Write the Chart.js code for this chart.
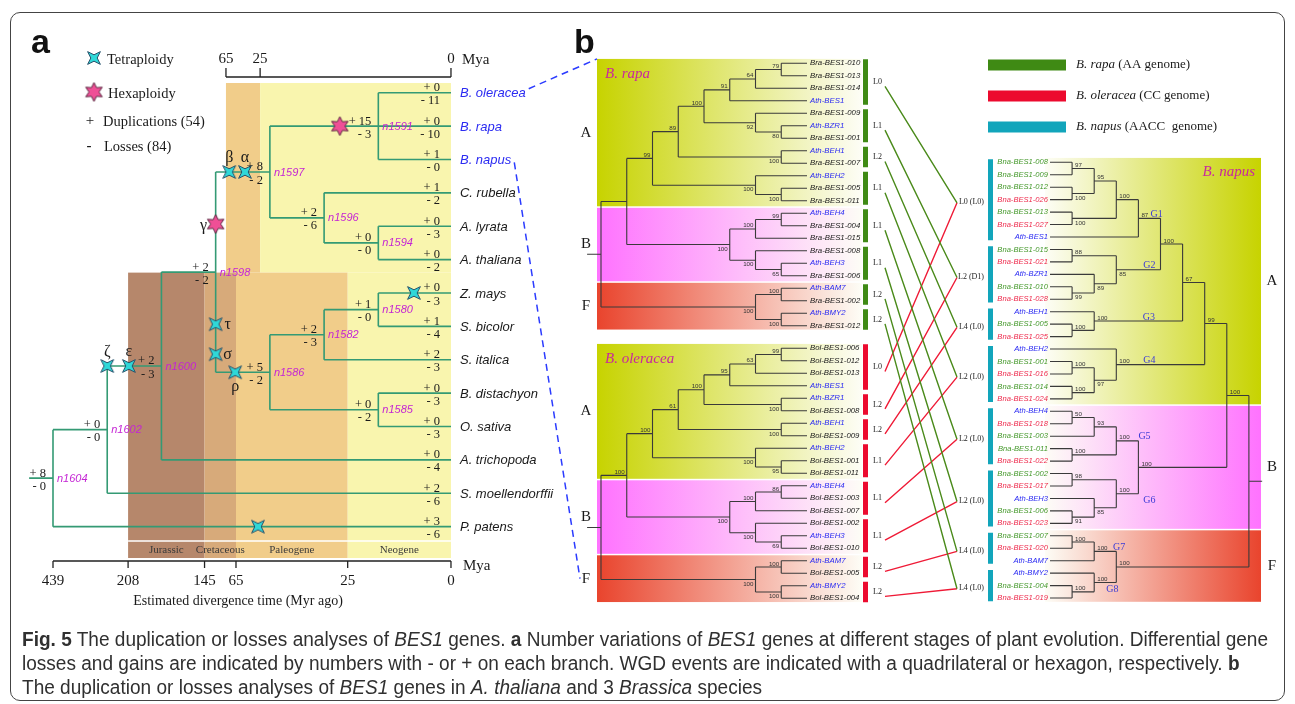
<!DOCTYPE html>
<html>
<head>
<meta charset="utf-8">
<title>BES1 duplications and losses</title>
<script src="https://cdn.jsdelivr.net/npm/chart.js@4.4.1/dist/chart.umd.min.js"></script>
<style>
  html, body { margin: 0; padding: 0; background: #fff; }
  #page { position: relative; width: 1295px; height: 704px; overflow: hidden; }
  #frame { position: absolute; left: 10px; top: 12px; width: 1275px; height: 689px; box-sizing: border-box; border: 1.5px solid #444; border-radius: 10px; }
  #fig { position: absolute; left: 0; top: 0; }
  #caption { position: absolute; left: 22px; top: 627px; font-family: "Liberation Sans Narrow", "Liberation Sans", Arial, sans-serif; font-size: 20px; line-height: 24px; color: #303030; white-space: nowrap; transform-origin: 0 0; }
  #caption span { display: inline-block; }
</style>
</head>
<body>
<div id="page">
  <div id="frame"></div>
  <canvas id="fig" width="1295" height="704"></canvas>
  <div id="caption">
    <div><span><b>Fig. 5</b> The duplication or losses analyses of <i>BES1</i> genes. <b>a</b> Number variations of <i>BES1</i> genes at different stages of plant evolution. Differential gene</span></div>
    <div><span>losses and gains are indicated by numbers with - or + on each branch. WGD events are indicated with a quadrilateral or hexagon, respectively. <b>b</b></span></div>
    <div><span>The duplication or losses analyses of <i>BES1</i> genes in <i>A. thaliana</i> and 3 <i>Brassica</i> species</span></div>
  </div>
</div>
<script>
// ---------- panel a: gains / losses of BES1 on the species tree ----------
const speciesA = ['B. oleracea', 'B. rapa', 'B. napus', 'C. rubella', 'A. lyrata', 'A. thaliana',
  'Z. mays', 'S. bicolor', 'S. italica', 'B. distachyon', 'O. sativa', 'A. trichopoda',
  'S. moellendorffii', 'P. patens'];
const brassicaA = ['B. oleracea', 'B. rapa', 'B. napus'];
const leafGainA = [0, 0, 1, 1, 0, 0, 0, 1, 2, 0, 0, 0, 2, 3];
const leafLossA = [11, 10, 0, 2, 3, 2, 3, 4, 3, 3, 3, 4, 6, 6];
// internal node: [name, depth, gain, loss, ...children]
const n1591 = ['n1591', 6, 15, 3, 'B. oleracea', 'B. rapa', 'B. napus'];
const n1594 = ['n1594', 6, 0, 0, 'A. lyrata', 'A. thaliana'];
const n1596 = ['n1596', 5, 2, 6, 'C. rubella', n1594];
const n1597 = ['n1597', 4, 8, 2, n1591, n1596];
const n1580 = ['n1580', 6, 1, 0, 'Z. mays', 'S. bicolor'];
const n1582 = ['n1582', 5, 2, 3, n1580, 'S. italica'];
const n1585 = ['n1585', 6, 0, 2, 'B. distachyon', 'O. sativa'];
const n1586 = ['n1586', 4, 5, 2, n1582, n1585];
const n1598 = ['n1598', 3, 2, 2, n1597, n1586];
const n1600 = ['n1600', 2, 2, 3, n1598, 'A. trichopoda'];
const n1602 = ['n1602', 1, 0, 0, n1600, 'S. moellendorffii'];
const n1604 = ['n1604', 0, 8, 0, n1602, 'P. patens'];
const bottomTicks = [439, 208, 145, 65, 25, 0];
const topTicks = [65, 25, 0];
const eraNames = ['Jurassic', 'Cretaceous', 'Paleogene', 'Neogene'];
const eraBounds = [208, 145, 65, 25, 0];
// WGD: [kind, symbol, branch (child node), t: 0..1 along vertical, 1..2 along horizontal, label side]
const wgdEvents = [
  ['tetra', 'β', 'n1597', 1.25, 'up'],
  ['tetra', 'α', 'n1597', 1.54, 'up'],
  ['hexa', 'γ', 'n1597', 0.48, 'left'],
  ['hexa', '', 'n1591', 1.645, ''],
  ['tetra', 'τ', 'n1586', 0.52, 'right'],
  ['tetra', 'σ', 'n1586', 0.82, 'right'],
  ['tetra', 'ρ', 'n1586', 1.36, 'down'],
  ['tetra', 'ζ', 'n1600', 1.0, 'up'],
  ['tetra', 'ε', 'n1600', 1.40, 'up'],
  ['tetra', '', 'Z. mays', 1.49, ''],
  ['tetra', '', 'P. patens', 1.515, '']
];
const legendA = ['Tetraploidy', 'Hexaploidy', 'Duplications (54)', 'Losses (84)'];

// ---------- panel b: BES1 gene trees ----------
// node: [depth, bootstrap, ...children]; a trailing "_" puts the bootstrap under the branch
const rapaTree = [0, '',
  [1, '',
    [2, '99',
      [3, '89',
        [4, '100',
          [5, '91', [6, '64', [7, '79', 'Bra-BES1-010', 'Bra-BES1-013'], 'Bra-BES1-014'], 'Ath-BES1'],
          [6, '92', 'Bra-BES1-009', [7, '80', 'Ath-BZR1', 'Bra-BES1-001']]],
        [7, '100', 'Ath-BEH1', 'Bra-BES1-007']],
      [6, '100', 'Ath-BEH2', [7, '100', 'Bra-BES1-005', 'Bra-BES1-011']]],
    [5, '100',
      [6, '100', [7, '99', 'Ath-BEH4', 'Bra-BES1-004'], 'Bra-BES1-015'],
      [6, '100', 'Bra-BES1-008', [7, '65', 'Ath-BEH3', 'Bra-BES1-006']]]],
  [6, '100', [7, '100', 'Ath-BAM7', 'Bra-BES1-002'], [7, '100', 'Ath-BMY2', 'Bra-BES1-012']]];
const oleraceaTree = [0, '',
  [1, '100',
    [2, '100',
      [3, '61',
        [4, '100',
          [5, '95', [6, '63', [7, '99', 'Bol-BES1-006', 'Bol-BES1-012'], 'Bol-BES1-013'], 'Ath-BES1'],
          [7, '100', 'Ath-BZR1', 'Bol-BES1-008']],
        [7, '100', 'Ath-BEH1', 'Bol-BES1-009']],
      [6, '100', 'Ath-BEH2', [7, '95', 'Bol-BES1-001', 'Bol-BES1-011']]],
    [5, '100',
      [6, '100', [7, '86', 'Ath-BEH4', 'Bol-BES1-003'], 'Bol-BES1-007'],
      [6, '100', 'Bol-BES1-002', [7, '69', 'Ath-BEH3', 'Bol-BES1-010']]]],
  [6, '100', [7, '100', 'Ath-BAM7', 'Bol-BES1-005'], [7, '100', 'Ath-BMY2', 'Bol-BES1-004']]];
const G1 = [4, '87', [3, '100', [2, '95', [1, '97', 'Bna-BES1-008', 'Bna-BES1-009'], [1, '100_', 'Bna-BES1-012', 'Bna-BES1-026']], [1, '100_', 'Bna-BES1-013', 'Bna-BES1-027']], 'Ath-BES1'];
const G2 = [3, '85_', [1, '88', 'Bna-BES1-015', 'Bna-BES1-021'], [2, '89_', 'Ath-BZR1', [1, '99_', 'Bna-BES1-010', 'Bna-BES1-028']]];
const G3 = [2, '100', 'Ath-BEH1', [1, '100', 'Bna-BES1-005', 'Bna-BES1-025']];
const G4 = [3, '100', 'Ath-BEH2', [2, '97_', [1, '100', 'Bna-BES1-001', 'Bna-BES1-016'], [1, '100', 'Bna-BES1-014', 'Bna-BES1-024']]];
const G5 = [3, '100', [2, '93', [1, '50', 'Ath-BEH4', 'Bna-BES1-018'], 'Bna-BES1-003'], [1, '100', 'Bna-BES1-011', 'Bna-BES1-022']];
const G6 = [3, '100', [1, '98', 'Bna-BES1-002', 'Bna-BES1-017'], [2, '85_', 'Ath-BEH3', [1, '91_', 'Bna-BES1-006', 'Bna-BES1-023']]];
const G7 = [2, '100', [1, '100', 'Bna-BES1-007', 'Bna-BES1-020'], 'Ath-BAM7'];
const G8 = [2, '100', 'Ath-BMY2', [1, '100', 'Bna-BES1-004', 'Bna-BES1-019']];
const napusTree = [9, '', [8, '100', [7, '99', [6, '67', [5, '100', G1, G2], G3], G4], [4, '100', G5, G6]], [3, '100', G7, G8]];
const napusGroupNodes = [G1, G2, G3, G4, G5, G6, G7, G8];
const napusGroupNames = ['G1', 'G2', 'G3', 'G4', 'G5', 'G6', 'G7', 'G8'];
const napusCGenome = ['Bna-BES1-016', 'Bna-BES1-017', 'Bna-BES1-018', 'Bna-BES1-019', 'Bna-BES1-020', 'Bna-BES1-021',
  'Bna-BES1-022', 'Bna-BES1-023', 'Bna-BES1-024', 'Bna-BES1-025', 'Bna-BES1-026', 'Bna-BES1-027', 'Bna-BES1-028'];
const cladeNames = ['A', 'B', 'F'];
const rapaClades = [[0, 11], [12, 17], [18, 21]];
const oleraceaClades = [[0, 10], [11, 16], [17, 20]];
const napusClades = [[0, 19], [20, 29], [30, 35]];
const rapaGroups = [[0, 3], [4, 6], [7, 8], [9, 11], [12, 14], [15, 17], [18, 19], [20, 21]];
const rapaGroupLoss = ['L0', 'L1', 'L2', 'L1', 'L1', 'L1', 'L2', 'L2'];
const oleraceaGroups = [[0, 3], [4, 5], [6, 7], [8, 10], [11, 13], [14, 16], [17, 18], [19, 20]];
const oleraceaGroupLoss = ['L0', 'L2', 'L2', 'L1', 'L1', 'L1', 'L2', 'L2'];
const napusGroups = [[0, 6], [7, 11], [12, 14], [15, 19], [20, 24], [25, 29], [30, 32], [33, 35]];
const napusGroupLoss = ['L0 (L0)', 'L2 (D1)', 'L4 (L0)', 'L2 (L0)', 'L2 (L0)', 'L2 (L0)', 'L4 (L0)', 'L4 (L0)'];
const genomeLegend = [['B. rapa', '(AA genome)'], ['B. oleracea', '(CC genome)'], ['B. napus', '(AACC  genome)']];

// ---------- layout & styles ----------
const W = 1295, H = 704;
const SERIF = '"Liberation Serif","DejaVu Serif",serif';
const SANS = '"Liberation Sans","DejaVu Sans",Arial,sans-serif';
const A_X0 = 53, A_DX = 54.22, A_Y0 = 92.7, A_DY = 33.38;
const B_X0 = 601, B_DX = 25.75, B_Y0 = 63.3, B_DY = 12.5;
const N_X0 = 1050, N_DX = 22.1;
const tipA = 7.34, rootStemA = 0.44;
const bottomTickDepth = [0, 1.385, 2.795, 3.375, 5.435, 7.34];
const topTickDepth = [3.19, 3.82, 7.34];
const rowsA = { bandTop: -0.29, split: 5.39, eraLine: 13.43, bandBottom: 13.94, axisBottom: 14.03, axisTop: -0.47 };
const eraColors = ['#b6876b', '#d7aa7a', '#f1cd8a', '#f9f5ae'];
const tipB = 8, rootStemB = -0.54, napusStem = 9.6;
const oleraceaRow0 = 22.8, napusRow0 = 7.92, napusStep = 0.996;
const bx = px => (px - B_X0) / B_DX;
const colB = { region: bx(597), regionEnd: bx(862), bar: bx(865.5), loss: bx(873), connA: bx(885), connB: bx(957), napusLoss: bx(984), napusBar: bx(990.5) };
const napusRegion = [(1045 - N_X0) / N_DX, (1261 - N_X0) / N_DX];
const gLabelDx = [0.55, 1.22, 2.2, 1.22, 1.0, 1.22, 0.85, 0.55];
const gLabelBelow = [false, false, false, false, false, true, false, true];
const cladeColors = ['#c7d300', '#ff72ff', '#e9442d'];
const genomeColors = ['#3f8a14', '#ec0a2e', '#12a5bb'];
const connColors = ['#4a8a1a', '#ef1a36'];
const treeColorA = '#349a74';
const blueText = '#2b2bf2';

function span(origin, unit, size) { return { min: -origin / unit, max: (size - origin) / unit }; }
function seg(arr, pts) { pts.forEach(p => arr.push({ x: p[0], y: p[1] })); arr.push({ x: null, y: null }); }

// lay out panel a tree
const treeA = { nodes: [], leaves: [], byName: {} };
(function () {
  function walk(n) {
    if (typeof n === 'string') {
      const i = speciesA.indexOf(n);
      const leaf = { name: n, x: tipA, y: i, gain: leafGainA[i], loss: leafLossA[i], leaf: true };
      treeA.leaves.push(leaf); treeA.byName[n] = leaf; return leaf;
    }
    const kids = n.slice(4).map(walk);
    const node = { name: n[0], x: n[1], gain: n[2], loss: n[3], kids, y: (kids[0].y + kids[kids.length - 1].y) / 2 };
    kids.forEach(k => k.parent = node);
    treeA.nodes.push(node); treeA.byName[n[0]] = node; return node;
  }
  treeA.root = walk(n1604);
})();

function layoutB(tree, tip, row0, step) {
  const out = { leaves: [], nodes: [], bySrc: new Map() };
  function walk(n) {
    if (typeof n === 'string') {
      const leaf = { name: n, x: tip, y: row0 + step * out.leaves.length, leaf: true };
      out.leaves.push(leaf); return leaf;
    }
    const kids = n.slice(2).map(walk);
    const node = { x: n[0], boot: n[1], kids, y: (kids[0].y + kids[kids.length - 1].y) / 2 };
    kids.forEach((k, i) => { k.parent = node; k.upper = i === 0; });
    out.nodes.push(node); out.bySrc.set(n, node); return node;
  }
  out.root = walk(tree);
  return out;
}
const treeR = layoutB(rapaTree, tipB, 0, 1);
const treeO = layoutB(oleraceaTree, tipB, oleraceaRow0, 1);
const treeN = layoutB(napusTree, 0, napusRow0, napusStep);

function treeSegments(t, stemFrom) {
  const pts = [];
  t.nodes.forEach(n => {
    seg(pts, [[n.x, n.kids[0].y], [n.x, n.kids[n.kids.length - 1].y]]);
    n.kids.forEach(k => seg(pts, [[n.x, k.y], [k.x, k.y]]));
  });
  seg(pts, [[stemFrom, t.root.y], [t.root.x, t.root.y]]);
  return pts;
}
const groupMid = (t, g) => (t.leaves[g[0]].y + t.leaves[g[1]].y) / 2;

// WGD marker positions on their branches
function onBranch(name, t) {
  const c = treeA.byName[name], p = c.parent;
  if (t <= 1) return { x: p.x, y: p.y + (c.y - p.y) * t };
  return { x: p.x + (c.x - p.x) * (t - 1), y: c.y };
}
const wgdPos = wgdEvents.map(e => Object.assign({ kind: e[0], sym: e[1], side: e[4] }, onBranch(e[2], e[3])));

function starCanvas(points, rOut, rIn, rot, fill, stroke) {
  const s = Math.ceil(rOut * 2 + 4), c = document.createElement('canvas');
  c.width = c.height = s;
  const g = c.getContext('2d');
  g.translate(s / 2, s / 2);
  g.beginPath();
  for (let i = 0; i < points * 2; i++) {
    const r = i % 2 ? rIn : rOut, a = rot + i * Math.PI / points;
    g.lineTo(r * Math.cos(a), r * Math.sin(a));
  }
  g.closePath();
  g.fillStyle = fill; g.fill();
  g.lineWidth = 1; g.strokeStyle = stroke; g.stroke();
  return c;
}
const tetraImg = starCanvas(4, 9, 3.2, Math.PI / 4, '#2fd8d8', '#28506a');
const hexaImg = starCanvas(6, 9.5, 5, -Math.PI / 2, '#ef4f96', '#5b2740');

function lineSet(data, xAxisID, yAxisID, color, width, extra) {
  return Object.assign({ data, xAxisID, yAxisID, showLine: true, borderColor: color, borderWidth: width,
    pointRadius: 0, pointHoverRadius: 0, spanGaps: false, tension: 0 }, extra || {});
}

function barSegments(t, groups, pad) {
  const pts = [];
  groups.forEach(g => seg(pts, [[0, t.leaves[g[0]].y - pad], [0, t.leaves[g[1]].y + pad]]));
  return pts;
}
function atX(pts, x) { return pts.map(p => p.x === null ? p : { x, y: p.y }); }

function connections(t, groups) {
  const pts = [];
  groups.forEach((g, i) => seg(pts, [[colB.connA, groupMid(t, g) + 0.35], [colB.connB, groupMid(treeN, napusGroups[i]) + 0.25]]));
  return pts;
}

const datasets = [
  { data: wgdPos.filter(p => p.kind === 'tetra'), xAxisID: 'xa', yAxisID: 'ya', pointStyle: tetraImg, pointRadius: 8, showLine: false },
  { data: wgdPos.filter(p => p.kind === 'hexa'), xAxisID: 'xa', yAxisID: 'ya', pointStyle: hexaImg, pointRadius: 8, showLine: false },
  lineSet(treeSegments(treeA, -rootStemA), 'xa', 'ya', treeColorA, 1.6),
  lineSet(treeSegments(treeR, rootStemB), 'xb', 'yb', '#3a3a3a', 1.1),
  lineSet(treeSegments(treeO, rootStemB), 'xb', 'yb', '#3a3a3a', 1.1),
  lineSet(treeSegments(treeN, napusStem), 'xn', 'yb', '#3a3a3a', 1.1),
  lineSet(connections(treeR, rapaGroups), 'xb', 'yb', connColors[0], 1.4),
  lineSet(connections(treeO, oleraceaGroups), 'xb', 'yb', connColors[1], 1.4),
  lineSet(atX(barSegments(treeR, rapaGroups, 0.32), colB.bar), 'xb', 'yb', genomeColors[0], 5, { borderCapStyle: 'butt' }),
  lineSet(atX(barSegments(treeO, oleraceaGroups, 0.32), colB.bar), 'xb', 'yb', genomeColors[1], 5, { borderCapStyle: 'butt' }),
  lineSet(atX(barSegments(treeN, napusGroups, 0.25), colB.napusBar), 'xb', 'yb', genomeColors[2], 5, { borderCapStyle: 'butt' })
];

// piecewise map from Mya to tree depth along an axis
function myaToDepth(v, ticks, depths) {
  for (let i = 0; i < ticks.length - 1; i++) {
    if (v <= ticks[i] && v >= ticks[i + 1]) return depths[i] + (depths[i + 1] - depths[i]) * (ticks[i] - v) / (ticks[i] - ticks[i + 1]);
  }
  return v > ticks[0] ? depths[0] : depths[depths.length - 1];
}

function text(ctx, s, x, y, font, color, align, base) {
  ctx.font = font; ctx.fillStyle = color; ctx.textAlign = align || 'left'; ctx.textBaseline = base || 'middle';
  ctx.fillText(s, x, y);
}

function drawBackPanelA(chart, ctx) {
  const xa = chart.scales.xa, ya = chart.scales.ya;
  const bxp = m => xa.getPixelForValue(myaToDepth(m, bottomTicks, bottomTickDepth));
  const txp = m => xa.getPixelForValue(myaToDepth(m, topTicks, topTickDepth));
  const yTop = ya.getPixelForValue(rowsA.bandTop), ySplit = ya.getPixelForValue(rowsA.split);
  const yBot = ya.getPixelForValue(rowsA.bandBottom), yEra = ya.getPixelForValue(rowsA.eraLine);
  ctx.fillStyle = eraColors[2]; ctx.fillRect(txp(65), yTop, txp(25) - txp(65), ySplit - yTop);
  ctx.fillStyle = eraColors[3]; ctx.fillRect(txp(25), yTop, txp(0) - txp(25), ySplit - yTop);
  eraNames.forEach((e, i) => {
    const x0 = bxp(eraBounds[i]), x1 = bxp(eraBounds[i + 1]);
    ctx.fillStyle = eraColors[i]; ctx.fillRect(x0, ySplit, x1 - x0, yBot - ySplit);
  });
  ctx.strokeStyle = '#ffffff'; ctx.lineWidth = 1.5;
  ctx.beginPath(); ctx.moveTo(bxp(208), yEra); ctx.lineTo(bxp(0), yEra); ctx.stroke();
  eraNames.forEach((e, i) => {
    const xc = (bxp(eraBounds[i]) + bxp(eraBounds[i + 1])) / 2;
    text(ctx, e, xc, (yEra + yBot) / 2 + 1, '11px ' + SERIF, '#3a3a3a', 'center');
  });
  // bottom time axis
  const yAx = ya.getPixelForValue(rowsA.axisBottom);
  ctx.strokeStyle = '#222'; ctx.lineWidth = 1.3;
  ctx.beginPath(); ctx.moveTo(bxp(439), yAx); ctx.lineTo(bxp(0), yAx);
  bottomTicks.forEach(t => { ctx.moveTo(bxp(t), yAx); ctx.lineTo(bxp(t), yAx + 7); });
  ctx.stroke();
  bottomTicks.forEach(t => text(ctx, String(t), bxp(t), yAx + 20, '15px ' + SERIF, '#1a1a1a', 'center'));
  text(ctx, 'Mya', bxp(0) + 12, yAx + 5, '15px ' + SERIF, '#1a1a1a', 'left');
  text(ctx, 'Estimated divergence time (Myr ago)', 238, yAx + 40, '14px ' + SERIF, '#1a1a1a', 'center');
  // top time axis
  const yT = ya.getPixelForValue(rowsA.axisTop);
  ctx.beginPath(); ctx.moveTo(txp(65), yT); ctx.lineTo(txp(0), yT);
  topTicks.forEach(t => { ctx.moveTo(txp(t), yT); ctx.lineTo(txp(t), yT - 9); });
  ctx.stroke();
  topTicks.forEach(t => text(ctx, String(t), txp(t), yT - 18, '15px ' + SERIF, '#1a1a1a', 'center'));
  text(ctx, 'Mya', txp(0) + 11, yT - 17, '15px ' + SERIF, '#1a1a1a', 'left');
  // legend
  ctx.drawImage(tetraImg, 94 - tetraImg.width / 2, 58 - tetraImg.height / 2);
  ctx.drawImage(hexaImg, 94 - hexaImg.width / 2, 92 - hexaImg.height / 2);
  text(ctx, legendA[0], 107, 60, '14.5px ' + SERIF, '#1a1a1a');
  text(ctx, legendA[1], 108, 94, '14.5px ' + SERIF, '#1a1a1a');
  text(ctx, '+', 90, 121, '15px ' + SERIF, '#1a1a1a', 'center');
  text(ctx, legendA[2], 103, 122, '14.5px ' + SERIF, '#1a1a1a');
  text(ctx, '-', 89, 146, 'bold 15px ' + SERIF, '#1a1a1a', 'center');
  text(ctx, legendA[3], 104, 147, '14.5px ' + SERIF, '#1a1a1a');
  text(ctx, 'a', 31, 53, 'bold 34px ' + SANS, '#111', 'left', 'alphabetic');
}

function cladeBoxes(t, clades) {
  return clades.map((c, i) => {
    const top = i === 0 ? t.leaves[c[0]].y - 0.35 : (t.leaves[clades[i - 1][1]].y + t.leaves[c[0]].y) / 2 + 0.06;
    const bot = i === clades.length - 1 ? t.leaves[c[1]].y + 0.3 : (t.leaves[c[1]].y + t.leaves[clades[i + 1][0]].y) / 2 - 0.06;
    return { top, bot };
  });
}

function drawBackPanelB(chart, ctx) {
  const xb = chart.scales.xb, yb = chart.scales.yb, xn = chart.scales.xn;
  const left = xb.getPixelForValue(colB.region), right = xb.getPixelForValue(colB.regionEnd);
  [[treeR, rapaClades, 'B. rapa'], [treeO, oleraceaClades, 'B. oleracea']].forEach(([t, clades, title]) => {
    const boxes = cladeBoxes(t, clades);
    boxes.forEach((b, i) => {
      const y0 = yb.getPixelForValue(b.top), y1 = yb.getPixelForValue(b.bot);
      const g = ctx.createLinearGradient(left, 0, right, 0);
      g.addColorStop(0, cladeColors[i]); g.addColorStop(1, '#fdfdf6');
      ctx.fillStyle = g; ctx.fillRect(left, y0, right - left, y1 - y0);
      text(ctx, cladeNames[i], left - 11, (y0 + y1) / 2, '15px ' + SERIF, '#1a1a1a', 'center');
    });
    text(ctx, title, left + 8, yb.getPixelForValue(boxes[0].top) + 15, 'italic 15px ' + SERIF, '#c9289e');
  });
  const nl = xn.getPixelForValue(napusRegion[0]), nr = xn.getPixelForValue(napusRegion[1]);
  const nboxes = cladeBoxes(treeN, napusClades);
  nboxes.forEach((b, i) => {
    const y0 = yb.getPixelForValue(b.top), y1 = yb.getPixelForValue(b.bot);
    const g = ctx.createLinearGradient(nl, 0, nr, 0);
    g.addColorStop(0, '#fdfdf6'); g.addColorStop(1, cladeColors[i]);
    ctx.fillStyle = g; ctx.fillRect(nl, y0, nr - nl, y1 - y0);
    text(ctx, cladeNames[i], nr + 11, (y0 + y1) / 2, '15px ' + SERIF, '#1a1a1a', 'center');
  });
  text(ctx, 'B. napus', nr - 6, yb.getPixelForValue(nboxes[0].top) + 14, 'italic 15px ' + SERIF, '#c9289e', 'right');
  // genome legend
  genomeLegend.forEach((g, i) => {
    const cy = 65 + i * 31;
    ctx.fillStyle = genomeColors[i]; ctx.fillRect(988, cy - 5.5, 78, 11);
    text(ctx, g[0], 1076, cy, 'italic 13px ' + SERIF, '#1a1a1a');
    const w = ctx.measureText(g[0] + ' ').width;
    text(ctx, g[1], 1076 + w, cy, '13px ' + SERIF, '#1a1a1a');
  });
  text(ctx, 'b', 574, 53, 'bold 34px ' + SANS, '#111', 'left', 'alphabetic');
}

function drawTextPanelA(chart, ctx) {
  const xa = chart.scales.xa, ya = chart.scales.ya;
  const nodeFont = 'italic 11px ' + SANS, numFont = '12.5px ' + SERIF;
  treeA.leaves.forEach(l => {
    const x = xa.getPixelForValue(l.x), y = ya.getPixelForValue(l.y);
    text(ctx, l.name, x + 9, y + 1, 'italic 13px ' + SANS, brassicaA.includes(l.name) ? blueText : '#1a1a1a');
  });
  [...treeA.leaves, ...treeA.nodes].forEach(n => {
    const x = xa.getPixelForValue(n.x) - (n.leaf ? 11 : 7), y = ya.getPixelForValue(n.y);
    text(ctx, '+ ' + n.gain, x, y - 1.5, numFont, '#1a1a1a', 'right', 'alphabetic');
    text(ctx, '- ' + n.loss, x, y + 2, numFont, '#1a1a1a', 'right', 'top');
  });
  treeA.nodes.forEach(n => {
    text(ctx, n.name, xa.getPixelForValue(n.x) + 4, ya.getPixelForValue(n.y) + 0.5, nodeFont, '#c424d4');
  });
  const off = { up: [0, -14], down: [0, 15], left: [-12, 2], right: [12, 1] };
  wgdPos.forEach(p => {
    if (!p.sym) return;
    const o = off[p.side];
    text(ctx, p.sym, xa.getPixelForValue(p.x) + o[0], ya.getPixelForValue(p.y) + o[1], '16px ' + SERIF, '#1a1a1a', 'center');
  });
  // dashed guides to panel b
  const xb = chart.scales.xb, yb = chart.scales.yb;
  ctx.font = 'italic 13px ' + SANS;
  const tipX = xa.getPixelForValue(tipA) + 9;
  const endOle = tipX + ctx.measureText('B. oleracea').width + 3;
  const endNap = tipX + ctx.measureText('B. napus').width + 3;
  const fBox = cladeBoxes(treeO, oleraceaClades)[2];
  ctx.save();
  ctx.strokeStyle = '#2b3bff'; ctx.lineWidth = 1.5; ctx.setLineDash([7, 5]);
  ctx.beginPath();
  ctx.moveTo(endOle, ya.getPixelForValue(0) - 4);
  ctx.lineTo(xb.getPixelForValue(colB.region), yb.getPixelForValue(treeR.leaves[0].y - 0.35));
  ctx.moveTo(endNap, ya.getPixelForValue(2) + 3);
  ctx.lineTo(xb.getPixelForValue(colB.region) - 17, yb.getPixelForValue((fBox.top + fBox.bot) / 2));
  ctx.stroke();
  ctx.restore();
}

function drawTextPanelB(chart, ctx) {
  const xb = chart.scales.xb, yb = chart.scales.yb, xn = chart.scales.xn;
  const leafFont = 'italic 7.8px ' + SANS, bootFont = '6.2px ' + SANS;
  [treeR, treeO].forEach(t => {
    t.leaves.forEach(l => text(ctx, l.name, xb.getPixelForValue(l.x) + 3, yb.getPixelForValue(l.y), leafFont,
      l.name.startsWith('Ath') ? blueText : '#1a1a1a'));
    t.nodes.forEach(n => {
      if (!n.boot) return;
      const x = xb.getPixelForValue(n.x) - 2, y = yb.getPixelForValue(n.y);
      if (n.upper) text(ctx, n.boot, x, y - 1.5, bootFont, '#333', 'right', 'alphabetic');
      else text(ctx, n.boot, x, y + 1.5, bootFont, '#333', 'right', 'top');
    });
  });
  treeN.leaves.forEach(l => {
    const c = l.name.startsWith('Ath') ? blueText : napusCGenome.includes(l.name) ? '#ee2b4d' : '#45992c';
    text(ctx, l.name, xn.getPixelForValue(l.x) - 2, yb.getPixelForValue(l.y), 'italic 7.6px ' + SANS, c, 'right');
  });
  treeN.nodes.forEach(n => {
    if (!n.boot) return;
    const below = n.boot.endsWith('_'), s = n.boot.replace('_', '');
    const x = xn.getPixelForValue(n.x) + 3, y = yb.getPixelForValue(n.y);
    if (below) text(ctx, s, x, y + 1.5, bootFont, '#333', 'left', 'top');
    else text(ctx, s, x, y - 1.5, bootFont, '#333', 'left', 'alphabetic');
  });
  napusGroupNodes.forEach((src, i) => {
    const n = treeN.bySrc.get(src);
    const x = xn.getPixelForValue(n.x + gLabelDx[i]), y = yb.getPixelForValue(n.y);
    if (gLabelBelow[i]) text(ctx, napusGroupNames[i], x, y + 2, '10px ' + SERIF, '#3b3bd6', 'left', 'top');
    else text(ctx, napusGroupNames[i], x, y - 1.5, '10px ' + SERIF, '#3b3bd6', 'left', 'alphabetic');
  });
  const lossFont = '8px ' + SERIF;
  [[treeR, rapaGroups, rapaGroupLoss], [treeO, oleraceaGroups, oleraceaGroupLoss]].forEach(([t, groups, loss]) => {
    groups.forEach((g, i) => text(ctx, loss[i], xb.getPixelForValue(colB.loss), yb.getPixelForValue(groupMid(t, g)), lossFont, '#222'));
  });
  napusGroups.forEach((g, i) => text(ctx, napusGroupLoss[i], xb.getPixelForValue(colB.napusLoss),
    yb.getPixelForValue(groupMid(treeN, g) + 0.2), lossFont, '#222', 'right'));
}

const figurePlugin = {
  id: 'figure',
  beforeDatasetsDraw(chart) {
    const ctx = chart.ctx; ctx.save();
    drawBackPanelA(chart, ctx);
    drawBackPanelB(chart, ctx);
    ctx.restore();
  },
  afterDatasetsDraw(chart) {
    const ctx = chart.ctx; ctx.save();
    drawTextPanelA(chart, ctx);
    drawTextPanelB(chart, ctx);
    ctx.restore();
  }
};

const hidden = (axis, o) => Object.assign({ type: 'linear', axis, display: false, bounds: 'data' }, o);
new Chart(document.getElementById('fig'), {
  type: 'scatter',
  data: { datasets },
  options: {
    responsive: false,
    animation: false,
    events: [],
    layout: { autoPadding: false, padding: 0 },
    plugins: { legend: { display: false }, tooltip: { enabled: false } },
    scales: {
      xa: hidden('x', span(A_X0, A_DX, W)),
      ya: hidden('y', Object.assign({ reverse: true }, span(A_Y0, A_DY, H))),
      xb: hidden('x', span(B_X0, B_DX, W)),
      yb: hidden('y', Object.assign({ reverse: true }, span(B_Y0, B_DY, H))),
      xn: hidden('x', span(N_X0, N_DX, W))
    }
  },
  plugins: [figurePlugin]
});

// stretch the caption so its first line spans the figure width
const capLine = document.querySelector('#caption span');
const capScale = 1246 / capLine.getBoundingClientRect().width;
document.getElementById('caption').style.transform = 'scaleX(' + capScale.toFixed(4) + ')';
</script>
</body>
</html>
